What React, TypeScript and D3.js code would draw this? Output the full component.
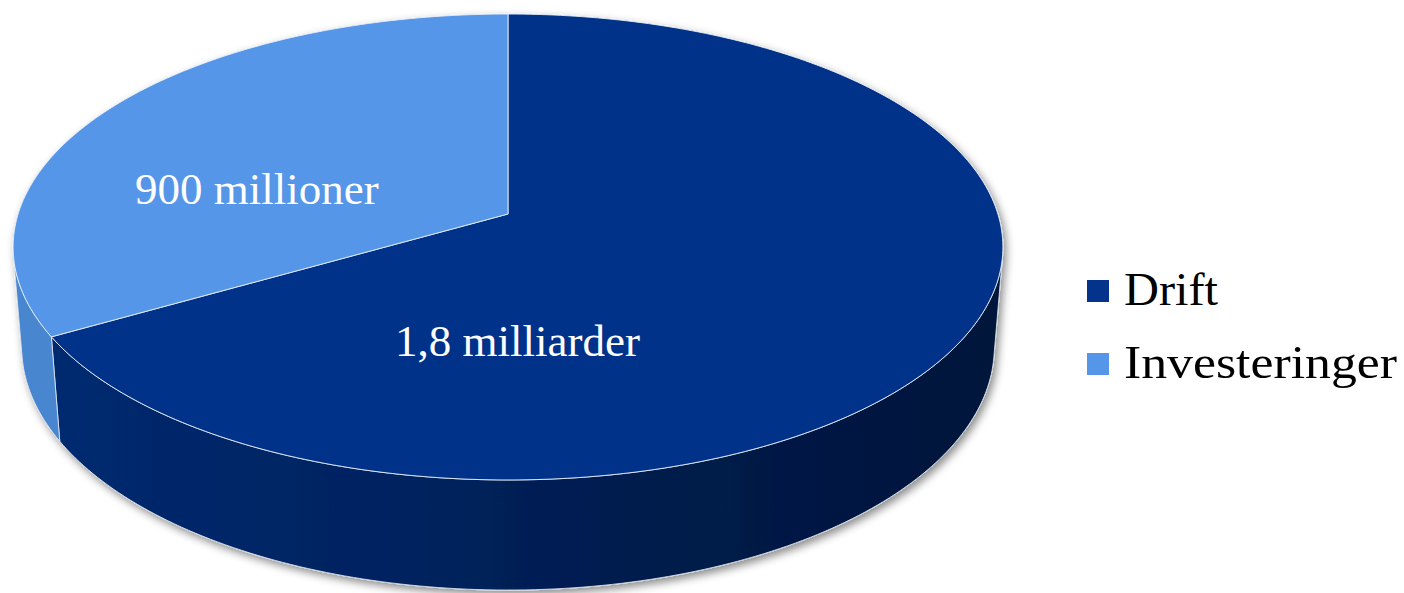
import React from "react";
import * as d3 from "d3";

const categories = ["Drift", "Investeringer"];
const values = [1.8, 0.9]; // milliarder kr
const valueLabels = ["1,8 milliarder", "900 millioner"];
const topColors = ["#03338a", "#5596e8"];
const sideColors = ["url(#driftSide)", "#4a86d0"];
// label anchor inside the slice: [angle in degrees clockwise from 12 o'clock, radius fraction]
const labelAnchors: [number, number][] = [
  [178, 0.515],
  [282, 0.532],
];

const W = 1404;
const H = 593;

// perspective camera
const CX = 508;
const CY = 214;
const DIST = 6.25;
const SIN_P = 0.466;
const COS_P = 0.885;
const FOCAL = 3062;
const DEPTH = 0.233;

function proj(theta: number, r: number, Y: number): [number, number] {
  const u = r * Math.sin(theta);
  const v = -r * Math.cos(theta);
  const depth = DIST - (Y * SIN_P + v * COS_P);
  const sx = CX + (FOCAL * u) / depth;
  const sy = CY - (FOCAL * (Y * COS_P - v * SIN_P)) / depth;
  return [sx, sy];
}

function arcPoints(a0: number, a1: number, Y: number): [number, number][] {
  const n = Math.max(2, Math.ceil((Math.abs(a1 - a0) / Math.PI) * 180));
  return d3.range(n + 1).map((i) => proj(a0 + ((a1 - a0) * i) / n, 1, Y));
}

const line = d3.line<[number, number]>().curve(d3.curveLinear);

export default function App() {
  const pie = d3
    .pie<number>()
    .sort(null)
    .startAngle(0)
    .endAngle(2 * Math.PI);
  const arcs = pie(values);

  const silCos = -1 / (DIST * COS_P);
  const visA = Math.acos(silCos);
  const visB = 2 * Math.PI - visA;

  const sides = arcs.map((a, i) => {
    const s = Math.max(a.startAngle, visA);
    const e = Math.min(a.endAngle, visB);
    if (e <= s) return null;
    const top = arcPoints(s, e, 0);
    const bot = arcPoints(e, s, -DEPTH);
    return <path key={"s" + i} d={line([...top, ...bot])! + "Z"} fill={sideColors[i]} stroke="#dfe6f0" strokeWidth={1} strokeOpacity={0.85} />;
  });

  const tops = arcs.map((a, i) => {
    const c = proj(0, 0, 0);
    const pts = [c, ...arcPoints(a.startAngle, a.endAngle, 0)];
    return <path key={"t" + i} d={line(pts)! + "Z"} fill={topColors[i]} stroke="#e6edf7" strokeWidth={1} strokeOpacity={0.9} strokeLinejoin="round" />;
  });

  const labels = arcs.map((a, i) => {
    const [deg, r] = labelAnchors[i];
    const [x, y] = proj((deg / 180) * Math.PI, r, 0);
    return (
      <text key={"l" + i} x={x} y={y} dy="0.33em" textAnchor="middle" fill="#ffffff" fontFamily="'Liberation Serif', serif" fontSize={45}>
        {valueLabels[i]}
      </text>
    );
  });

  const legendX = 1087;
  const legendY0 = 280;
  const legendStep = 73;

  return (
    <svg width={W} height={H} style={{ position: "absolute", left: 0, top: 0 }}>
      <defs>
        <linearGradient id="driftSide" gradientUnits="userSpaceOnUse" x1={50} y1={0} x2={1000} y2={0}>
          <stop offset="0" stopColor="#032a70" />
          <stop offset="0.35" stopColor="#012360" />
          <stop offset="0.65" stopColor="#001b4b" />
          <stop offset="1" stopColor="#00153a" />
        </linearGradient>
        <filter id="shadow" x="-5%" y="-5%" width="110%" height="115%">
          <feDropShadow dx={3} dy={4} stdDeviation={4} floodColor="#000" floodOpacity={0.45} />
        </filter>
      </defs>
      <rect width={W} height={H} fill="#ffffff" />
      <g filter="url(#shadow)">
        {sides}
        {tops}
      </g>
      {labels}
      {categories.map((c, i) => (
        <g key={"lg" + i}>
          <rect x={legendX} y={legendY0 + i * legendStep} width={22} height={22} fill={topColors[i]} />
          <text
            x={1124}
            y={legendY0 + i * legendStep + 25}
            fontFamily="'Liberation Serif', serif"
            fontSize={46}
            fill="#000"
            textLength={i === 0 ? 94 : 273}
            lengthAdjust="spacingAndGlyphs"
          >
            {c}
          </text>
        </g>
      ))}
    </svg>
  );
}
